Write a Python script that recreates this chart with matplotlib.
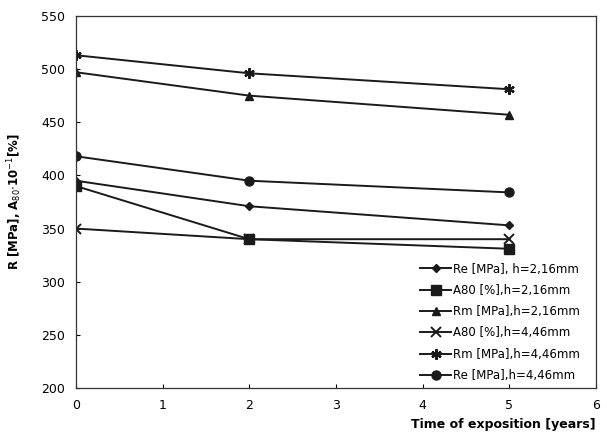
import matplotlib.pyplot as plt

years = [0, 2, 5]
re_216 = [395, 371, 353]
a80_216 = [390, 340, 331]
rm_216 = [497, 475, 457]
a80_446 = [350, 340, 340]
rm_446 = [513, 496, 481]
re_446 = [418, 395, 384]

labels = ["Re [MPa], h=2,16mm", "A80 [%],h=2,16mm", "Rm [MPa],h=2,16mm",
          "A80 [%],h=4,46mm", "Rm [MPa],h=4,46mm", "Re [MPa],h=4,46mm"]

fig = plt.figure(figsize=(6.07, 4.41), dpi=100)
ax = fig.add_axes([0.125, 0.12, 0.857, 0.844])

kw = dict(color="#1a1a1a", lw=1.4)
ax.plot(years, re_216, marker="D", ms=4.5, label=labels[0], **kw)
ax.plot(years, a80_216, marker="s", ms=6.5, label=labels[1], **kw)
ax.plot(years, rm_216, marker="^", ms=6, label=labels[2], **kw)
ax.plot(years, a80_446, marker="x", ms=6.5, mew=1.4, label=labels[3], **kw)
ax.plot(years, rm_446, marker=(6, 2, 0), ms=7.5, mew=1.6, label=labels[4], **kw)
ax.plot(years, re_446, marker="o", ms=6.5, label=labels[5], **kw)

ax.set_xlim(0, 6)
ax.set_ylim(200, 550)
ax.set_xticks(range(0, 7))
ax.set_yticks(range(200, 551, 50))
ax.tick_params(labelsize=9, direction="in", length=3, pad=8)
for s in ax.spines.values():
    s.set_color("#333333")
    s.set_linewidth(0.9)

ax.set_ylabel(r"R [MPa], A$_{80}$$\cdot$10$^{-1}$[%]", fontsize=8.5, fontweight="bold", labelpad=12)
ax.set_xlabel("Time of exposition [years]", fontsize=9, fontweight="bold")
ax.xaxis.set_label_coords(1.0, -0.08)
ax.xaxis.label.set_horizontalalignment("right")

ax.legend(loc="lower right", bbox_to_anchor=(0.99, -0.012), frameon=False, fontsize=8.5,
          handlelength=2.6, labelspacing=0.7, handletextpad=0.2)

fig.savefig("out.png", dpi=100)
